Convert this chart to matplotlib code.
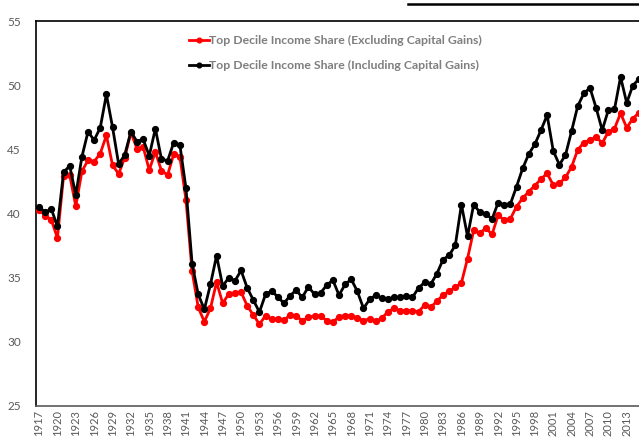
import matplotlib
matplotlib.use("Agg")
import matplotlib.pyplot as plt
from matplotlib.lines import Line2D

years = list(range(1917, 2016))

excl_cg = [40.29, 39.84, 39.50, 38.09, 42.90, 43.00, 40.57, 43.28, 44.16, 44.05,
           44.67, 46.10, 43.77, 43.08, 44.36, 46.30, 45.06, 45.20, 43.39, 44.80,
           43.33, 43.00, 44.63, 44.44, 41.06, 35.50, 32.69, 31.57, 32.61, 34.65,
           33.00, 33.74, 33.77, 33.88, 32.81, 32.09, 31.38, 32.03, 31.76, 31.78,
           31.68, 32.09, 32.04, 31.63, 31.91, 32.02, 32.02, 31.65, 31.53, 31.96,
           32.04, 32.02, 31.88, 31.65, 31.80, 31.60, 31.84, 32.35, 32.61, 32.43,
           32.43, 32.43, 32.35, 32.87, 32.69, 33.18, 33.64, 33.95, 34.24, 34.60,
           36.49, 38.68, 38.47, 38.86, 38.37, 39.87, 39.48, 39.59, 40.54, 41.19,
           41.71, 42.17, 42.69, 43.12, 42.22, 42.35, 42.81, 43.64, 44.96, 45.53,
           45.71, 45.97, 45.48, 46.36, 46.61, 47.81, 46.69, 47.39, 47.86]

incl_cg = [40.54, 40.08, 40.36, 38.99, 43.20, 43.72, 41.45, 44.42, 46.38, 45.71,
           46.69, 49.28, 46.74, 43.85, 44.57, 46.38, 45.60, 45.79, 44.50, 46.61,
           44.24, 44.11, 45.53, 45.35, 41.96, 36.10, 33.70, 32.53, 34.47, 36.72,
           34.34, 35.01, 34.75, 35.56, 34.21, 33.26, 32.32, 33.70, 33.95, 33.51,
           33.00, 33.59, 34.03, 33.46, 34.29, 33.70, 33.82, 34.42, 34.81, 33.64,
           34.47, 34.88, 33.93, 32.61, 33.30, 33.64, 33.39, 33.31, 33.46, 33.46,
           33.59, 33.46, 34.21, 34.63, 34.50, 35.32, 36.41, 36.74, 37.52, 40.70,
           38.22, 40.70, 40.10, 39.98, 39.56, 40.85, 40.68, 40.75, 42.09, 43.51,
           44.63, 45.40, 46.49, 47.67, 44.88, 43.80, 44.55, 46.43, 48.37, 49.36,
           49.79, 48.24, 46.49, 48.06, 48.11, 50.64, 48.62, 49.97, 50.48]

tick_years = list(range(1917, 2014, 3))
y_ticks = [25, 30, 35, 40, 45, 50, 55]

label_excl = "Top Decile Income Share (Excluding Capital Gains)"
label_incl = "Top Decile Income Share (Including Capital Gains)"

plt.rcParams['font.family'] = ['Lato', 'DejaVu Sans']

W, H = 639, 438
fig = plt.figure(figsize=(W / 100, H / 100), dpi=100)
left_px, right_px, top_px, bottom_px = 36, 642, 21, 406
ax = fig.add_axes([left_px / W, 1 - bottom_px / H,
                   (right_px - left_px) / W, (bottom_px - top_px) / H])

ax.plot(years, excl_cg, color='#FF0000', lw=2.0, marker='o', ms=4.2,
        label=label_excl, zorder=3)
ax.plot(years, incl_cg, color='#000000', lw=2.0, marker='o', ms=4.2,
        label=label_incl, zorder=4)

ax.set_xlim(1916.5, 2015.5)
ax.set_ylim(25, 55)
ax.set_xticks(tick_years)
ax.set_xticklabels([str(y) for y in tick_years], rotation=90, fontsize=8,
                   color='#595959')
ax.set_yticks(y_ticks)
ax.set_yticklabels([str(v) for v in y_ticks], fontsize=8.5, color='#595959')
ax.tick_params(axis='x', length=0, pad=3)
ax.tick_params(axis='y', length=0, pad=11)

for s in ['left', 'top', 'right']:
    ax.spines[s].set_color('#000000')
    ax.spines[s].set_linewidth(1.2)
ax.spines['bottom'].set_color('#595959')
ax.spines['bottom'].set_linewidth(1.2)

leg = ax.legend(loc='upper left', bbox_to_anchor=(183 / W, 1 - 29 / H),
                bbox_transform=fig.transFigure, frameon=False, borderpad=0,
                handlelength=1.6, handletextpad=0.05, labelspacing=1.15,
                prop={'size': 8.8, 'weight': 'bold'}, markerscale=0.8)
for t in leg.get_texts():
    t.set_color('#7F7F7F')

# cropped underline at top of the original image
fig.add_artist(Line2D([408 / W, 1.0], [1 - 4 / H, 1 - 4 / H],
                      transform=fig.transFigure, color='black', lw=1.8))

fig.savefig('out.png', dpi=100)
